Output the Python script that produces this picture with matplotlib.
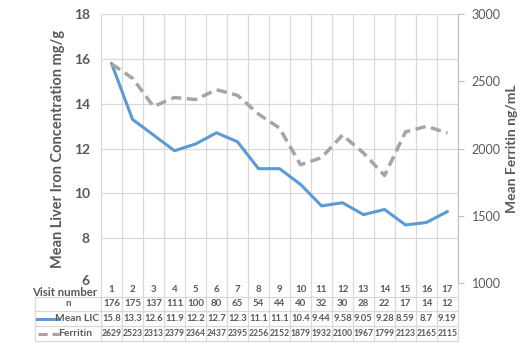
import matplotlib
matplotlib.use("Agg")
import matplotlib.pyplot as plt
import matplotlib.transforms as mtransforms
from matplotlib.lines import Line2D

visits = list(range(1, 18))
n_vals = [176, 175, 137, 111, 100, 80, 65, 54, 44, 40, 32, 30, 28, 22, 17, 14, 12]
lic = [15.8, 13.3, 12.6, 11.9, 12.2, 12.7, 12.3, 11.1, 11.1, 10.4, 9.44, 9.58, 9.05, 9.28, 8.59, 8.7, 9.19]
ferritin = [2629, 2523, 2313, 2379, 2364, 2437, 2395, 2256, 2152, 1879, 1932, 2100, 1967, 1799, 2123, 2165, 2115]
lic_labels = ["15.8", "13.3", "12.6", "11.9", "12.2", "12.7", "12.3", "11.1", "11.1", "10.4", "9.44", "9.58", "9.05", "9.28", "8.59", "8.7", "9.19"]

FONT = ["Lato", "DejaVu Sans"]
plt.rcParams['font.family'] = FONT
TXT = "#595959"
GRID = "#d9d9d9"
BLUE = "#5B9BD5"
GREY = "#A5A5A5"

W, H = 520, 345
fig = plt.figure(figsize=(W / 100, H / 100), dpi=100)

x0, x1 = 101, 458
ytop, ybot = 14, 283
ax = fig.add_axes([x0 / W, 1 - ybot / H, (x1 - x0) / W, (ybot - ytop) / H])
ax.set_xlim(0.5, 17.5)
ax.set_ylim(6, 18)
ax.set_yticks(range(6, 19, 2))
ax.set_yticklabels([str(v) for v in range(6, 19, 2)], fontsize=10, fontweight="bold", color=TXT)
ax.tick_params(axis="y", length=0, pad=8)
ax.set_xticks([])
for s in ax.spines.values():
    s.set_visible(False)
for y in range(6, 19, 2):
    ax.axhline(y, color=GRID, lw=0.9, zorder=0)
ax.set_ylabel("Mean Liver Iron Concentration mg/g", fontsize=10.5, fontweight="bold", color=TXT, labelpad=6)
# nudge the lowest tick label up a little so it clears the table header
lbl6 = ax.get_yticklabels()[0]
lbl6.set_transform(lbl6.get_transform() + mtransforms.ScaledTranslation(0, 2 / 72, fig.dpi_scale_trans))

ax.plot(visits, lic, color=BLUE, lw=2.2, zorder=3, solid_capstyle="round")

ax2 = ax.twinx()
ax2.set_ylim(1000, 3000)
ax2.set_yticks(range(1000, 3001, 500))
ax2.set_yticklabels([str(v) for v in range(1000, 3001, 500)], fontsize=9, color=TXT)
ax2.tick_params(axis="y", length=4, color="#bfbfbf", pad=6)
for k, s in ax2.spines.items():
    s.set_visible(k == "right")
ax2.spines["right"].set_color("#bfbfbf")
ax2.set_ylabel("Mean Ferritin ng/mL", fontsize=10, fontweight="bold", color=TXT, labelpad=4)
ax2.plot(visits, ferritin, color=GREY, lw=2.5, ls=(0, (3, 1.6)), zorder=3)

# table
tx0 = 35
tb_top, tb_bot = 283, 341
tax = fig.add_axes([tx0 / W, 1 - tb_bot / H, (x1 - tx0) / W, (tb_bot - tb_top) / H])
colw = (x1 - x0) / 17.0
left_data = 0.5 - (x0 - tx0) / colw
tax.set_xlim(left_data, 17.5)
tax.set_ylim(tb_bot, tb_top)
tax.axis("off")

row_bounds = [283, 297, 311, 326, 341]
row_centers = [(row_bounds[i] + row_bounds[i + 1]) / 2 for i in range(4)]

for xv in [i + 0.5 for i in range(18)]:
    ax.axvline(xv, color=GRID, lw=0.9, zorder=0)
    tax.plot([xv, xv], [tb_top, tb_bot], color=GRID, lw=0.9, clip_on=False)
tax.plot([left_data, left_data], [row_bounds[1], tb_bot], color=GRID, lw=0.9, clip_on=False)
for yb in row_bounds[1:]:
    tax.plot([left_data, 17.5], [yb, yb], color=GRID, lw=0.9, clip_on=False)

fs = 7.0
for i, v in enumerate(visits):
    tax.text(v, row_centers[0], str(v), ha="center", va="center", fontsize=fs, fontweight="bold", color=TXT)
    tax.text(v, row_centers[1], str(n_vals[i]), ha="center", va="center", fontsize=fs, fontweight="bold", color=TXT)
    tax.text(v, row_centers[2], lic_labels[i], ha="center", va="center", fontsize=fs - 0.2, fontweight="bold", color=TXT)
    tax.text(v, row_centers[3], str(ferritin[i]), ha="center", va="center", fontsize=6.2, fontweight="bold", color=TXT)

tax.text(0.5 - 4 / colw, row_centers[0] + 2.5, "Visit number", ha="right", va="center", fontsize=8.2, fontweight="bold", color=TXT)
hx_center = (left_data + 0.5) / 2
tax.text(hx_center, row_centers[1], "n", ha="center", va="center", fontsize=fs, fontweight="bold", color=TXT)
tax.text(0.5 - 2 / colw, row_centers[2], "Mean LIC", ha="right", va="center", fontsize=7.4, fontweight="bold", color=TXT)
tax.text(0.5 - 9 / colw, row_centers[3], "Ferritin", ha="right", va="center", fontsize=7.4, fontweight="bold", color=TXT)
lx0 = left_data + 2 / colw
tax.add_line(Line2D([lx0, lx0 + 22 / colw], [row_centers[2], row_centers[2]], color=BLUE, lw=2.2))
tax.add_line(Line2D([lx0 + 1 / colw, lx0 + 22 / colw], [row_centers[3], row_centers[3]], color=GREY, lw=2.2, ls=(0, (3, 1.6))))

fig.savefig("out.png", dpi=100)
